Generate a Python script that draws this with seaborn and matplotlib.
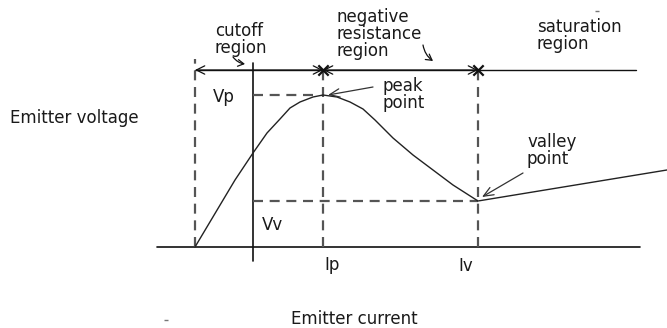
import matplotlib
matplotlib.use("Agg")
import matplotlib.pyplot as plt
import seaborn as sns

# Emitter characteristic of a UJT (arbitrary units: current along x, voltage along y)
I_curve = [-58, -18, 0, 14, 27, 37, 47, 60, 70, 84, 97, 110, 122, 140, 160, 180, 200, 225, 420]
V_curve = [0, 67, 94, 114, 128, 139, 145, 150, 152, 150, 145, 138, 127, 109, 92, 77, 62, 46, 78]

# Peak and valley points
Ip, Vp = 70, 152
Iv, Vv = 225, 46
I_cut = -58          # left edge of the cutoff region
region_top = 177     # level of the region-marker line

axis_labels = ["Emitter voltage", "Emitter current"]
level_labels = ["Vp", "Vv"]
current_labels = ["Ip", "Iv"]
region_labels = [["cutoff", "region"],
                 ["negative", "resistance", "region"],
                 ["saturation", "region"]]
point_labels = [["peak", "point"], ["valley", "point"]]

sns.set_theme(style="white")
plt.rcParams["font.family"] = ["DejaVu Sans"]

fig = plt.figure(figsize=(6.67, 3.28), dpi=100)
ax = fig.add_axes([0, 0, 1, 1])
ax.set_xlim(-253, 414)
ax.set_ylim(-81, 247)
ax.axis("off")

ink = "#111111"
dash = "#555555"
fs = 12
tc = "#1a1a1a"

# Axes
ax.plot([-96, 387], [0, 0], color=ink, lw=1.2)
ax.plot([0, 0], [-14, 184], color=ink, lw=1.2)

# Region marker line
ax.plot([I_cut, 383], [region_top, region_top], color=ink, lw=1.0)

# Dashed guide lines
dkw = dict(color=dash, lw=1.6, dashes=(4.5, 3))
ax.plot([I_cut, I_cut], [0, 188], **dkw)
ax.plot([Ip, Ip], [0, region_top], **dkw)
ax.plot([Iv, Iv], [0, region_top], **dkw)
ax.plot([0, Ip - 6], [Vp, Vp], **dkw)
ax.plot([0, Iv], [Vv, Vv], **dkw)

# Characteristic curve
sns.lineplot(x=I_curve, y=V_curve, sort=False, estimator=None,
             color="#222222", lw=1.0, ax=ax)

# Region arrows and boundary crosses
akw = dict(arrowstyle="<->,head_length=0.5,head_width=0.25", lw=0.9, color=ink,
           shrinkA=0, shrinkB=0)
ax.annotate("", xy=(I_cut, region_top), xytext=(Ip, region_top), arrowprops=akw)
ax.annotate("", xy=(Ip, region_top), xytext=(Iv, region_top), arrowprops=akw)
ax.scatter([Ip, Iv], [region_top, region_top], marker="x", s=55,
           color=ink, linewidths=1.6, zorder=5)

# Small pointer arrows under the region names
pkw = dict(arrowstyle="->,head_length=0.35,head_width=0.2", lw=0.9, color=ink,
           shrinkA=0, shrinkB=0, connectionstyle="arc3,rad=0.2")
ax.annotate("", xy=(-8, 183), xytext=(-20, 190), arrowprops=pkw)
ax.annotate("", xy=(180, 186), xytext=(170, 202), arrowprops=pkw)

# Peak and valley pointers
ptr = dict(arrowstyle="->,head_length=0.6,head_width=0.25", lw=0.9, color="#333333",
           shrinkA=0, shrinkB=0)
ax.annotate("", xy=(Ip + 5, Vp), xytext=(120, 160), arrowprops=ptr)
ax.annotate("", xy=(Iv + 4, Vv + 4), xytext=(270, 74), arrowprops=ptr)

# Text
ax.text(-243, 124, axis_labels[0], fontsize=fs, color=tc, va="baseline")
ax.text(38, -77, axis_labels[1], fontsize=fs, color=tc, va="baseline")

ax.text(-40, Vp - 7, level_labels[0], fontsize=fs, color=tc, va="baseline")
ax.text(9, Vv - 29, level_labels[1], fontsize=fs, color=tc, va="baseline")
ax.text(Ip + 1, -23, current_labels[0], fontsize=fs, color=tc, va="baseline")
ax.text(Iv - 20, -24, current_labels[1], fontsize=fs, color=tc, va="baseline")

for lines, x0, y0 in [(region_labels[0], -38, 211),
                      (region_labels[1], 84, 225),
                      (region_labels[2], 284, 215)]:
    for k, s in enumerate(lines):
        ax.text(x0, y0 - 17 * k, s, fontsize=fs, color=tc, va="baseline")

for lines, x0, y0 in [(point_labels[0], 129, 156),
                      (point_labels[1], 274, 100)]:
    for k, s in enumerate(lines):
        ax.text(x0, y0 - 16.5 * k, s, fontsize=fs, color=tc, va="baseline")

# Stray specks
ax.plot([-87, 344], [-73, 236], ls="none", marker="_", ms=3, color="#777777")

fig.savefig("out.png", dpi=100)
